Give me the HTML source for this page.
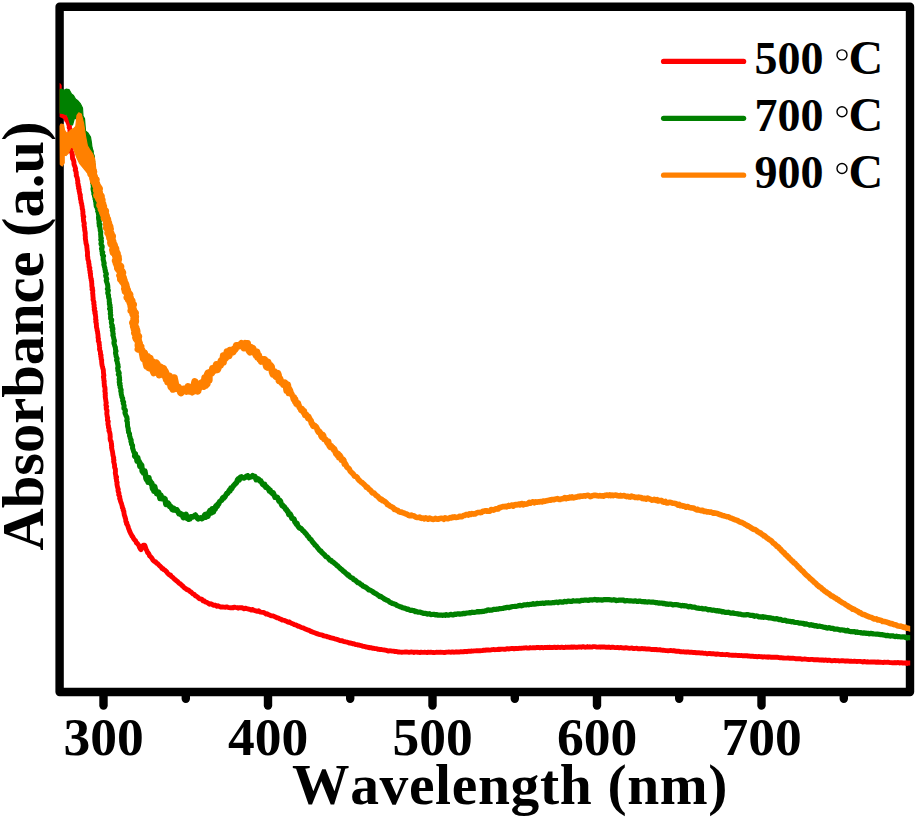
<!DOCTYPE html>
<html><head><meta charset="utf-8"><style>
html,body{margin:0;padding:0;background:#fff;}
svg{display:block;}
</style></head><body>
<svg width="917" height="818" viewBox="0 0 917 818">
<rect width="917" height="818" fill="#fff"/>
<g stroke="#000" stroke-width="8.4" stroke-linecap="round" fill="none">
<rect x="59.6" y="6.7" width="850.4" height="685.3" stroke-linejoin="round"/>
<line x1="103.5" y1="696" x2="103.5" y2="705.5"/>
<line x1="185.8" y1="696" x2="185.8" y2="698.7"/>
<line x1="268.0" y1="696" x2="268.0" y2="705.5"/>
<line x1="350.2" y1="696" x2="350.2" y2="698.7"/>
<line x1="432.5" y1="696" x2="432.5" y2="705.5"/>
<line x1="514.8" y1="696" x2="514.8" y2="698.7"/>
<line x1="597.0" y1="696" x2="597.0" y2="705.5"/>
<line x1="679.2" y1="696" x2="679.2" y2="698.7"/>
<line x1="761.5" y1="696" x2="761.5" y2="705.5"/>
<line x1="843.8" y1="696" x2="843.8" y2="698.7"/>
</g>
<defs><clipPath id="pa"><rect x="59.6" y="6.7" width="850.6" height="685.3"/></clipPath></defs>
<g fill="none" stroke-linejoin="round" stroke-linecap="round" clip-path="url(#pa)">
<path d="M59.0 85.5 L59.3 86.2 L58.8 87.1 L59.4 88.2 L58.9 89.3 L59.0 90.6 L59.4 92.0 M59.4 92.0 L59.1 93.4 L59.2 94.8 L58.9 96.2 L59.4 97.5 L59.3 98.8 L59.2 100.0 M59.2 100.0 L59.5 101.4 L59.2 102.8 L59.3 104.2 L59.0 105.6 L59.2 107.0 L59.0 108.3 M59.0 108.3 L59.1 109.5 L59.5 110.6 L59.3 111.6 L59.6 112.5 L60.5 114.8 L61.8 115.4 M61.8 115.4 L63.0 115.8 L64.0 116.5 L65.1 117.0 L66.0 118.1 L66.5 120.0 L67.1 120.5 M67.1 120.5 L67.6 121.2 L68.2 122.8 L68.7 124.0 L69.0 125.1 L69.5 126.3 L69.2 127.4 M69.2 127.4 L69.8 128.7 L70.0 130.0 L69.9 131.2 L70.5 132.4 L70.8 133.6 L70.8 135.0 M70.8 135.0 L70.7 136.4 L71.2 138.0 L71.0 139.0 L71.1 140.2 L71.2 141.3 L70.8 142.6 M70.8 142.6 L71.2 143.8 L71.1 145.1 L71.2 146.3 L70.8 147.6 L71.3 148.8 L71.0 150.0 M71.0 150.0 L71.1 151.3 L71.8 152.6 L72.1 153.8 L72.4 155.1 L72.4 156.3 L72.5 157.5 M72.5 157.5 L72.6 158.7 L73.4 159.9 L73.7 161.0 L74.0 162.4 L73.9 163.7 L74.2 164.9 M74.2 164.9 L74.8 166.2 L75.2 167.4 L75.6 168.7 L75.2 170.0 L75.7 171.1 L76.2 172.2 M76.2 172.2 L76.1 173.2 L76.4 174.3 L76.2 175.5 L76.8 176.8 L77.3 178.3 L77.5 180.0 M77.5 180.0 L77.8 181.0 L77.8 182.0 L77.7 183.2 L78.3 184.3 L78.1 185.6 L78.8 186.9 M78.8 186.9 L78.5 188.2 L79.3 189.5 L79.1 190.9 L79.5 192.2 L79.7 193.6 L80.3 194.9 M80.3 194.9 L80.1 196.2 L80.5 197.5 L80.4 198.8 L80.8 200.0 L81.1 201.3 L81.1 202.5 M81.1 202.5 L81.7 203.8 L81.7 205.0 L82.1 206.2 L82.2 207.4 L82.2 208.6 L82.7 209.8 M82.7 209.8 L82.7 211.0 L83.0 212.2 L82.8 213.4 L83.1 214.6 L83.0 215.7 L83.7 216.9 M83.7 216.9 L83.3 218.0 L83.5 219.3 L83.5 220.5 L83.7 221.7 L84.2 222.8 L84.3 223.9 M84.3 223.9 L84.0 225.1 L84.2 226.2 L84.4 227.4 L84.7 228.6 L84.6 229.8 L84.9 231.1 M84.9 231.1 L85.2 232.5 L85.3 234.0 L85.1 235.0 L85.3 236.1 L85.4 237.2 L85.3 238.4 M85.3 238.4 L85.5 239.5 L85.7 240.7 L85.9 242.0 L86.0 243.2 L86.4 244.5 L86.8 245.8 M86.8 245.8 L86.8 247.0 L87.0 248.3 L87.1 249.6 L87.2 250.8 L87.5 252.1 L87.5 253.3 M87.5 253.3 L87.5 254.5 L87.4 255.7 L87.8 256.9 L87.8 258.0 L87.9 259.3 L88.4 260.6 M88.4 260.6 L88.8 261.9 L88.6 263.1 L89.1 264.3 L89.1 265.5 L89.1 266.7 L89.8 267.8 M89.8 267.8 L89.6 269.0 L89.7 270.2 L90.3 271.4 L90.0 272.6 L90.6 273.9 L90.4 275.2 M90.4 275.2 L90.7 276.6 L90.8 278.0 L91.4 279.1 L91.2 280.2 L91.7 281.3 L91.6 282.4 M91.6 282.4 L91.8 283.5 L91.8 284.7 L91.8 285.8 L92.0 287.0 L92.5 288.2 L92.1 289.4 M92.1 289.4 L92.8 290.6 L92.7 291.9 L92.6 293.1 L92.9 294.4 L92.9 295.7 L93.0 297.0 M93.0 297.0 L93.2 298.3 L93.0 299.6 L93.5 300.9 L94.0 302.3 L93.7 303.6 L94.2 305.0 M94.2 305.0 L94.1 306.1 L94.1 307.2 L94.7 308.3 L94.2 309.5 L94.5 310.7 L95.2 311.9 M95.2 311.9 L94.8 313.1 L95.4 314.3 L95.4 315.5 L95.7 316.7 L95.7 318.0 L95.6 319.2 M95.6 319.2 L96.1 320.5 L95.7 321.7 L96.2 323.0 L96.3 324.2 L96.5 325.5 L96.4 326.7 M96.4 326.7 L96.7 328.0 L97.1 329.2 L97.1 330.4 L97.6 331.6 L97.6 332.9 L97.9 334.1 M97.9 334.1 L98.0 335.2 L98.1 336.4 L98.0 337.6 L98.5 338.7 L98.3 340.0 L98.4 341.3 M98.4 341.3 L99.2 342.6 L99.1 343.9 L99.4 345.2 L99.5 346.5 L99.7 347.8 L99.5 349.1 M99.5 349.1 L99.8 350.3 L100.4 351.6 L100.5 352.8 L100.4 354.1 L101.1 355.3 L100.8 356.5 M100.8 356.5 L101.2 357.7 L101.1 358.9 L101.7 360.1 L101.6 361.3 L101.7 362.4 L101.8 363.6 M101.8 363.6 L102.0 364.7 L102.2 365.8 L102.6 366.9 L102.7 368.0 L103.2 369.4 L103.4 370.7 M103.4 370.7 L103.4 372.0 L103.5 373.2 L103.7 374.4 L103.9 375.6 L103.4 376.8 L103.6 377.9 M103.6 377.9 L103.9 379.0 L103.8 380.1 L104.3 381.3 L104.1 382.4 L104.2 383.6 L104.4 384.8 M104.4 384.8 L104.3 386.0 L104.9 387.3 L105.0 388.6 L105.1 390.0 L104.8 391.1 L105.1 392.2 M105.1 392.2 L105.4 393.3 L105.1 394.4 L105.4 395.6 L105.2 396.7 L105.4 397.9 L105.6 399.1 M105.6 399.1 L105.8 400.3 L105.9 401.6 L106.3 402.8 L106.0 404.0 L105.9 405.3 L106.6 406.5 M106.6 406.5 L106.2 407.8 L106.3 409.0 L107.0 410.3 L107.0 411.5 L106.8 412.8 L106.8 414.0 M106.8 414.0 L107.1 415.3 L107.2 416.5 L107.7 417.8 L107.5 419.0 L107.4 420.2 L108.2 421.4 M108.2 421.4 L108.1 422.5 L107.9 423.7 L108.1 424.9 L108.5 426.1 L108.4 427.3 L109.0 428.5 M109.0 428.5 L109.1 429.7 L108.9 430.8 L109.6 432.0 L109.8 433.2 L110.1 434.4 L110.1 435.6 M110.1 435.6 L110.3 436.8 L110.1 438.0 L110.2 439.2 L110.4 440.4 L111.2 441.6 L111.2 442.8 M111.2 442.8 L111.6 444.0 L111.4 445.2 L111.8 446.3 L111.5 447.5 L111.8 448.7 L112.0 449.9 M112.0 449.9 L112.4 451.2 L112.6 452.5 L112.8 453.8 L112.9 455.0 L113.2 456.3 L113.7 457.7 M113.7 457.7 L113.5 459.0 L114.0 460.3 L113.6 461.6 L114.0 462.9 L114.4 464.2 L114.6 465.4 M114.6 465.4 L114.5 466.7 L114.8 468.0 L115.4 469.2 L115.4 470.4 L115.5 471.6 L115.3 472.7 M115.3 472.7 L115.4 473.9 L115.7 474.9 L115.8 476.0 L116.6 477.0 L116.0 478.0 L116.5 479.6 M116.5 479.6 L116.5 481.1 L117.2 482.5 L116.9 483.8 L117.1 485.0 L117.3 486.2 L117.6 487.3 M117.6 487.3 L117.9 488.4 L118.3 489.4 L118.0 490.5 L118.2 491.5 L118.8 492.6 L119.0 493.6 M119.0 493.6 L118.7 494.7 L119.5 496.0 L119.8 497.2 L119.6 498.4 L120.3 499.5 L120.3 500.6 M120.3 500.6 L120.7 501.8 L121.2 502.9 L121.6 504.0 L121.9 505.2 L122.3 506.4 L122.4 507.7 M122.4 507.7 L123.2 509.0 L123.1 510.1 L123.9 511.3 L123.9 512.5 L124.1 513.7 L124.3 515.0 M124.3 515.0 L124.8 516.2 L125.1 517.5 L125.6 518.8 L125.8 520.1 L125.8 521.3 L126.7 522.6 M126.7 522.6 L126.5 523.7 L127.4 524.9 L127.8 526.0 L128.2 527.0 L128.6 528.5 L129.0 529.4 M129.0 529.4 L129.6 531.1 L130.2 532.4 L130.8 533.8 L131.4 534.6 L132.0 536.1 L132.6 536.5 M132.6 536.5 L133.2 537.6 L133.7 538.8 L134.7 540.1 L135.6 540.8 L136.4 542.8 L137.2 543.3 M137.2 543.3 L138.0 544.4 L138.8 545.3 L139.6 547.6 L140.3 548.8 L141.0 549.6 L141.8 548.0 M141.8 548.0 L142.5 546.9 L143.2 545.4 L144.0 545.1 L144.6 545.2 L145.1 546.2 L145.7 548.1 M145.7 548.1 L146.3 549.8 L147.0 550.9 L147.6 552.7 L148.2 553.0 L148.9 554.0 L149.6 555.8 M149.6 555.8 L150.4 556.5 L151.3 557.4 L152.0 558.3 L152.8 559.9 L153.7 560.8 L154.5 561.3 M154.5 561.3 L155.5 561.7 L156.5 563.2 L157.5 563.6 L158.7 564.8 L159.5 565.7 L160.3 566.3 M160.3 566.3 L161.1 567.0 L162.0 568.5 L162.9 568.5 L163.8 569.7 L164.8 570.0 L165.7 570.9 M165.7 570.9 L166.7 571.8 L167.6 573.4 L168.6 574.0 L169.5 575.0 L170.4 574.9 L171.4 576.5 M171.4 576.5 L172.4 577.1 L173.4 578.0 L174.4 579.2 L175.4 579.7 L176.4 580.8 L177.4 581.4 M177.4 581.4 L178.4 582.4 L179.4 583.4 L180.3 583.8 L181.2 584.7 L182.0 585.5 L183.2 586.5 M183.2 586.5 L184.2 587.7 L185.2 588.3 L186.1 588.9 L187.0 589.8 L188.0 589.8 L188.9 590.4 M188.9 590.4 L190.0 591.5 L191.0 592.0 L192.1 593.2 L193.1 594.0 L194.2 594.3 L195.3 595.7 M195.3 595.7 L196.5 596.3 L197.6 597.0 L198.7 598.2 L199.8 598.9 L200.9 598.9 L202.0 599.5 M202.0 599.5 L203.1 600.9 L204.2 600.8 L205.2 602.0 L206.3 602.1 L207.4 602.7 L208.5 603.4 M208.5 603.4 L209.6 604.2 L210.8 603.8 L212.0 604.3 L213.3 605.2 L214.5 605.2 L215.7 605.4 M215.7 605.4 L216.9 606.3 L218.2 605.8 L219.4 606.5 L220.6 607.0 L221.9 606.9 L223.1 607.0 M223.1 607.0 L224.4 607.1 L225.6 607.3 L226.8 606.9 L228.1 607.3 L229.3 607.6 L230.5 607.8 M230.5 607.8 L231.8 607.8 L233.0 607.9 L234.2 607.1 L235.4 607.4 L236.7 607.6 L237.9 608.1 M237.9 608.1 L239.1 607.7 L240.3 607.7 L241.5 607.6 L242.8 608.1 L244.0 608.7 L245.2 608.2 M245.2 608.2 L246.4 608.5 L247.7 608.9 L248.9 609.3 L250.1 609.4 L251.3 610.1 L252.6 609.6 M252.6 609.6 L253.8 610.2 L255.0 610.6 L256.2 611.0 L257.5 611.3 L258.7 610.8 L259.9 611.9 M259.9 611.9 L261.1 612.2 L262.4 612.4 L263.6 612.4 L264.8 613.1 L266.1 614.1 L267.3 613.9 M267.3 613.9 L268.5 614.6 L269.7 615.0 L270.9 615.9 L272.2 615.9 L273.4 616.0 L274.6 616.7 M274.6 616.7 L275.8 617.1 L277.1 617.9 L278.3 617.9 L279.5 618.8 L280.8 619.1 L282.0 619.9 M282.0 619.9 L283.3 620.2 L284.5 620.4 L285.7 621.0 L287.0 621.5 L288.2 622.4 L289.4 622.1 M289.4 622.1 L290.7 622.9 L291.9 623.5 L293.1 623.9 L294.3 624.6 L295.6 625.0 L296.8 625.4 M296.8 625.4 L298.0 626.2 L299.2 626.3 L300.4 627.0 L301.7 627.6 L302.9 627.8 L304.1 628.4 M304.1 628.4 L305.4 629.1 L306.6 629.6 L307.8 630.1 L309.0 630.2 L310.2 631.1 L311.5 631.6 M311.5 631.6 L312.7 632.1 L313.9 632.5 L315.2 633.0 L316.4 633.5 L317.6 633.8 L318.8 634.4 M318.8 634.4 L320.1 634.6 L321.3 634.8 L322.5 635.1 L323.7 635.9 L324.9 636.1 L326.2 636.2 M326.2 636.2 L327.4 636.9 L328.6 637.0 L329.8 637.5 L331.1 637.8 L332.3 638.1 L333.5 638.4 M333.5 638.4 L334.7 638.8 L336.0 639.1 L337.2 639.5 L338.4 639.8 L339.6 640.5 L340.9 640.7 M340.9 640.7 L342.1 640.8 L343.3 641.3 L344.5 641.6 L345.8 641.9 L347.0 642.1 L348.2 642.5 M348.2 642.5 L349.3 643.0 L350.4 643.0 L351.6 643.3 L352.7 643.8 L354.0 643.8 L355.4 644.4 M355.4 644.4 L356.9 644.6 L357.9 645.0 L359.0 645.0 L360.0 645.4 L361.1 645.6 L362.3 646.1 M362.3 646.1 L363.5 646.4 L364.7 646.5 L366.0 647.0 L367.3 647.2 L368.6 647.5 L370.0 647.8 M370.0 647.8 L371.4 647.8 L372.9 648.4 L373.9 648.3 L375.0 648.6 L376.1 648.6 L377.3 649.1 M377.3 649.1 L378.4 649.1 L379.6 649.5 L380.8 649.4 L382.1 649.7 L383.3 649.9 L384.5 650.0 M384.5 650.0 L385.8 650.1 L387.1 650.7 L388.3 651.0 L389.6 650.8 L390.9 650.9 L392.1 651.1 M392.1 651.1 L393.4 651.1 L394.6 651.6 L395.8 651.5 L397.0 651.7 L398.2 652.0 L399.4 652.0 M399.4 652.0 L400.6 652.1 L401.8 652.2 L403.0 652.1 L404.2 652.1 L405.4 651.9 L406.6 652.0 M406.6 652.0 L407.9 652.2 L409.1 652.4 L410.3 652.2 L411.5 652.0 L412.7 652.1 L413.9 652.4 M413.9 652.4 L415.1 652.1 L416.3 652.1 L417.5 652.2 L418.7 652.4 L419.9 652.5 L421.1 652.2 M421.1 652.2 L422.3 652.4 L423.5 652.4 L424.7 652.3 L425.9 652.4 L427.1 652.5 L428.3 652.2 M428.3 652.2 L429.5 652.4 L430.8 652.2 L432.0 652.4 L433.2 652.5 L434.4 652.6 L435.6 652.4 M435.6 652.4 L436.8 652.3 L438.0 652.4 L439.2 652.3 L440.4 652.1 L441.6 652.3 L442.8 652.4 M442.8 652.4 L444.0 652.5 L445.2 652.5 L446.4 652.1 L447.6 652.1 L448.8 652.0 L450.0 652.1 M450.0 652.1 L451.2 652.3 L452.4 651.9 L453.7 652.2 L454.9 652.1 L456.1 651.8 L457.3 652.0 M457.3 652.0 L458.5 652.0 L459.7 652.0 L460.9 651.6 L462.1 651.9 L463.3 651.8 L464.5 651.5 M464.5 651.5 L465.7 651.4 L466.9 651.7 L468.1 651.3 L469.3 651.2 L470.5 651.3 L471.7 651.0 M471.7 651.0 L472.9 651.1 L474.1 650.9 L475.3 650.9 L476.6 650.8 L477.8 650.8 L479.0 650.6 M479.0 650.6 L480.2 650.7 L481.4 650.6 L482.6 650.5 L483.8 650.2 L485.0 650.3 L486.2 650.0 M486.2 650.0 L487.4 649.9 L488.6 650.0 L489.8 650.1 L491.0 649.9 L492.2 649.6 L493.4 649.5 M493.4 649.5 L494.6 649.7 L495.8 649.6 L497.0 649.6 L498.2 649.2 L499.5 649.5 L500.7 649.2 M500.7 649.2 L501.9 649.1 L503.1 649.1 L504.3 649.3 L505.5 649.3 L506.7 648.8 L507.9 648.8 M507.9 648.8 L509.1 649.0 L510.3 648.6 L511.5 648.5 L512.7 648.4 L514.0 648.8 L515.2 648.5 M515.2 648.5 L516.5 648.4 L517.7 648.6 L519.0 648.3 L520.3 648.4 L521.5 648.2 L522.8 648.1 M522.8 648.1 L524.0 648.0 L525.2 647.9 L526.4 647.8 L527.6 648.1 L528.8 648.1 L529.9 647.8 M529.9 647.8 L531.0 647.9 L532.1 647.9 L533.2 647.6 L534.6 647.8 L535.9 647.8 L537.1 647.4 M537.1 647.4 L538.3 647.4 L539.4 647.7 L540.5 647.7 L541.6 647.4 L542.7 647.7 L543.8 647.7 M543.8 647.7 L544.9 647.5 L546.1 647.5 L547.3 647.3 L548.6 647.5 L550.0 647.3 L551.1 647.5 M551.1 647.5 L552.2 647.5 L553.3 647.5 L554.4 647.2 L555.6 647.5 L556.8 647.5 L558.0 647.2 M558.0 647.2 L559.2 647.4 L560.4 647.5 L561.7 647.1 L562.9 647.5 L564.2 647.5 L565.5 647.3 M565.5 647.3 L566.7 647.4 L568.0 647.1 L569.2 647.2 L570.5 647.3 L571.7 646.9 L572.9 647.3 M572.9 647.3 L574.1 647.0 L575.3 647.2 L576.5 647.1 L577.7 647.2 L578.9 647.0 L580.1 647.0 M580.1 647.0 L581.3 647.2 L582.5 646.7 L583.7 646.8 L585.0 647.2 L586.2 647.1 L587.4 646.7 M587.4 646.7 L588.6 647.1 L589.8 646.8 L591.0 647.1 L592.2 647.1 L593.4 646.6 L594.6 646.6 M594.6 646.6 L595.8 646.8 L597.0 647.1 L598.2 647.1 L599.4 646.9 L600.6 647.2 L601.8 646.9 M601.8 646.9 L603.0 647.0 L604.2 646.9 L605.4 647.3 L606.6 647.3 L607.9 647.2 L609.1 647.1 M609.1 647.1 L610.3 647.5 L611.5 647.3 L612.7 647.2 L613.9 647.4 L615.1 647.6 L616.3 647.6 M616.3 647.6 L617.5 647.4 L618.7 647.8 L619.9 647.7 L621.1 647.5 L622.3 647.9 L623.5 648.0 M623.5 648.0 L624.7 648.0 L625.9 647.7 L627.1 647.9 L628.3 648.1 L629.5 648.3 L630.8 648.1 M630.8 648.1 L632.0 648.0 L633.2 648.5 L634.4 648.5 L635.6 648.4 L636.8 648.2 L638.0 648.7 M638.0 648.7 L639.2 648.7 L640.4 648.9 L641.6 648.5 L642.8 648.7 L644.0 648.7 L645.2 648.7 M645.2 648.7 L646.4 649.1 L647.6 649.0 L648.8 648.9 L650.0 649.1 L651.2 649.5 L652.4 649.5 M652.4 649.5 L653.7 649.4 L654.9 649.7 L656.1 649.5 L657.3 649.8 L658.5 649.9 L659.7 649.7 M659.7 649.7 L660.9 650.0 L662.1 650.2 L663.3 650.3 L664.5 650.4 L665.7 650.6 L666.9 650.6 M666.9 650.6 L668.1 650.8 L669.3 650.6 L670.5 650.5 L671.7 650.7 L672.9 650.9 L674.1 650.8 M674.1 650.8 L675.3 651.0 L676.6 651.3 L677.8 651.2 L679.0 651.3 L680.2 651.7 L681.4 651.8 M681.4 651.8 L682.6 651.9 L683.8 651.8 L685.0 652.0 L686.2 652.2 L687.4 651.9 L688.6 652.0 M688.6 652.0 L689.8 652.4 L691.0 652.2 L692.2 652.3 L693.4 652.5 L694.6 652.4 L695.8 652.7 M695.8 652.7 L697.0 652.6 L698.2 652.8 L699.5 652.8 L700.7 653.0 L701.9 652.9 L703.1 653.2 M703.1 653.2 L704.3 653.4 L705.5 653.3 L706.7 653.7 L707.9 653.7 L709.1 653.5 L710.3 653.5 M710.3 653.5 L711.5 653.9 L712.7 653.7 L713.9 653.8 L715.1 654.0 L716.2 654.3 L717.4 654.0 M717.4 654.0 L718.6 654.2 L719.7 654.4 L720.9 654.5 L722.1 654.3 L723.3 654.6 L724.5 654.6 M724.5 654.6 L725.7 654.7 L726.9 654.5 L728.1 654.6 L729.4 655.1 L730.6 655.1 L731.9 655.2 M731.9 655.2 L733.2 655.3 L734.3 655.4 L735.5 655.2 L736.7 655.4 L737.9 655.5 L739.2 655.5 M739.2 655.5 L740.4 655.6 L741.7 655.5 L743.0 655.9 L744.3 655.7 L745.6 655.7 L746.9 655.7 M746.9 655.7 L748.2 656.1 L749.4 656.0 L750.7 656.4 L751.9 656.1 L753.2 656.2 L754.4 656.6 M754.4 656.6 L755.6 656.5 L756.7 656.7 L757.9 656.7 L758.9 656.5 L760.0 656.6 L761.4 656.7 M761.4 656.7 L762.7 657.0 L763.9 656.8 L765.0 656.9 L766.1 657.0 L767.1 656.9 L768.1 657.2 M768.1 657.2 L769.1 656.9 L770.1 657.0 L771.2 657.3 L772.4 657.3 L773.7 657.3 L775.2 657.3 M775.2 657.3 L776.8 657.2 L778.6 657.5 L779.5 657.8 L780.5 657.7 L781.4 657.7 L782.5 658.0 M782.5 658.0 L783.5 658.0 L784.6 658.1 L785.7 658.1 L786.8 658.1 L788.0 658.0 L789.2 658.2 M789.2 658.2 L790.4 658.1 L791.6 658.4 L792.8 658.2 L794.1 658.4 L795.4 658.7 L796.7 658.6 M796.7 658.6 L797.9 658.7 L799.2 658.6 L800.5 658.7 L801.8 659.2 L803.2 659.1 L804.5 659.0 M804.5 659.0 L805.8 659.2 L807.1 659.4 L808.4 659.5 L809.7 659.6 L811.0 659.4 L812.2 659.4 M812.2 659.4 L813.5 659.7 L814.8 659.7 L816.0 659.8 L817.2 659.7 L818.4 659.8 L819.6 660.0 M819.6 660.0 L820.8 659.9 L821.9 660.2 L823.1 659.9 L824.2 660.4 L825.4 660.0 L826.5 660.2 M826.5 660.2 L827.7 660.5 L828.8 660.2 L829.9 660.3 L831.1 660.7 L832.2 660.7 L833.4 660.6 M833.4 660.6 L834.5 660.4 L835.6 660.7 L836.8 660.6 L838.0 660.6 L839.1 661.0 L840.3 660.9 M840.3 660.9 L841.5 660.8 L842.7 660.7 L844.0 660.9 L845.2 661.2 L846.4 661.0 L847.7 661.0 M847.7 661.0 L849.0 661.2 L850.3 661.1 L851.7 661.3 L853.0 661.4 L854.4 661.2 L855.8 661.4 M855.8 661.4 L856.9 661.5 L858.0 661.4 L859.1 661.4 L860.3 661.4 L861.5 661.6 L862.8 661.9 M862.8 661.9 L864.0 661.4 L865.3 661.9 L866.6 662.0 L868.0 661.8 L869.3 662.1 L870.7 662.0 M870.7 662.0 L872.1 662.0 L873.4 662.0 L874.8 662.0 L876.2 662.2 L877.6 662.0 L879.0 662.3 M879.0 662.3 L880.4 662.2 L881.8 662.4 L883.2 662.5 L884.6 662.2 L886.0 662.4 L887.4 662.3 M887.4 662.3 L888.7 662.3 L890.1 662.6 L891.4 662.6 L892.7 662.9 L893.9 662.7 L895.2 662.6 M895.2 662.6 L896.4 662.9 L897.6 662.5 L898.7 662.7 L899.9 663.0 L900.9 662.7 L902.0 662.8 M902.0 662.8 L903.0 663.1 L903.9 662.9 L904.9 662.9 L905.7 663.2 L906.5 662.8 L907.3 663.3 M907.3 663.3 L908.0 663.0 L912.3 663.1 L914.0 663.3 L914.2 663.3 L913.9 663.5 L914.0 663.4" stroke="#ff0000" stroke-width="4.9"/>
<path d="M59.6 89.7 L61.4 89.0 L63.5 90.5 L66.0 89.2 L69.0 89.5 L71.5 94.0 L73.5 95.5 L75.5 99.0 L77.5 100.5 L80.5 104.0 L82.5 108.0 L83.0 116.0 L84.5 118.5 L85.5 131.0 L88.0 133.0 L90.5 137.0 L91.5 143.0 L92.5 153.0 L94.0 155.0 L94.0 165.0 L86.0 160.0 L82.0 135.0 L78.0 120.0 L74.5 118.0 L72.5 125.0 L70.5 124.5 L68.5 118.0 L67.0 115.0 L63.0 113.5 L59.6 113.0 Z" fill="#008000" stroke="#008000" stroke-width="1.2"/>
<path d="M88.7 146.0 L89.3 146.4 L89.7 148.2 L90.2 148.1 L90.8 150.1 L91.4 151.6 L91.3 153.2 M91.3 153.2 L91.5 155.0 L91.9 156.0 L92.4 157.0 L92.4 158.1 L92.1 159.2 L92.5 160.4 M92.5 160.4 L92.8 161.7 L92.6 162.9 L92.9 164.2 L93.3 165.5 L93.0 166.8 L92.8 168.1 M92.8 168.1 L92.6 169.4 L92.8 170.7 L93.0 172.0 L93.5 173.2 L93.3 174.4 L92.8 175.6 M92.8 175.6 L93.5 176.8 L93.0 178.0 L93.2 179.3 L92.5 180.5 L92.5 181.7 L92.6 183.0 M92.6 183.0 L93.3 184.2 L93.1 185.4 L93.4 186.6 L93.2 187.7 L93.0 188.9 L93.2 190.0 M93.2 190.0 L93.5 191.4 L94.0 192.7 L93.8 194.0 L94.5 195.2 L94.5 196.5 L95.1 197.7 M95.1 197.7 L95.0 198.9 L95.5 200.2 L95.5 201.4 L96.0 202.6 L95.9 203.8 L96.1 205.0 M96.1 205.0 L96.2 206.2 L97.2 207.3 L97.1 208.3 L97.8 209.3 L98.0 210.3 L97.7 211.3 M97.7 211.3 L98.5 212.4 L98.3 213.5 L98.7 214.8 L98.6 216.1 L98.5 217.7 L98.7 219.4 M98.7 219.4 L98.9 220.3 L99.4 221.3 L99.0 222.3 L99.0 223.4 L100.0 224.5 L99.3 225.7 M99.3 225.7 L99.8 226.9 L100.0 228.1 L100.2 229.3 L100.2 230.6 L100.8 231.8 L100.7 233.1 M100.7 233.1 L100.6 234.4 L100.8 235.7 L100.8 237.1 L101.4 238.4 L100.7 239.7 L101.4 241.0 M101.4 241.0 L101.4 242.3 L100.9 243.6 L101.3 244.9 L102.2 246.2 L102.2 247.5 L101.5 248.7 M101.5 248.7 L101.9 249.9 L101.8 251.1 L102.8 252.3 L102.2 253.6 L102.4 254.8 L103.5 256.0 M103.5 256.0 L103.1 257.2 L103.2 258.4 L103.1 259.6 L103.6 260.8 L103.8 262.0 L104.2 263.2 M104.2 263.2 L103.8 264.4 L104.2 265.6 L104.4 266.8 L104.9 268.0 L104.9 269.3 L105.4 270.5 M105.4 270.5 L105.3 271.7 L106.1 273.0 L106.4 274.2 L105.6 275.5 L105.9 276.7 L106.5 278.0 M106.5 278.0 L106.8 279.2 L106.2 280.4 L106.5 281.6 L107.0 282.8 L107.3 284.0 L107.7 285.3 M107.7 285.3 L107.8 286.5 L107.9 287.8 L107.3 289.0 L108.4 290.3 L108.1 291.5 L107.7 292.8 M107.7 292.8 L108.0 294.0 L108.6 295.3 L108.5 296.6 L108.7 297.8 L109.2 299.1 L109.3 300.3 M109.3 300.3 L109.2 301.6 L109.6 302.8 L109.3 304.0 L110.1 305.2 L109.8 306.4 L110.3 307.6 M110.3 307.6 L109.5 308.8 L110.5 310.0 L110.3 311.3 L110.6 312.5 L110.2 313.7 L110.8 315.0 M110.8 315.0 L110.6 316.2 L110.6 317.4 L110.6 318.6 L111.7 319.8 L111.6 321.0 L111.3 322.2 M111.3 322.2 L111.5 323.3 L111.8 324.5 L112.4 325.7 L111.7 326.9 L112.8 328.0 L112.9 329.2 M112.9 329.2 L112.3 330.4 L112.9 331.6 L112.8 332.7 L113.3 333.9 L112.8 335.1 L113.3 336.3 M113.3 336.3 L113.6 337.5 L113.8 338.7 L114.1 339.9 L114.5 341.1 L113.9 342.4 L114.0 343.6 M114.0 343.6 L114.5 344.9 L114.8 346.2 L115.4 347.4 L115.4 348.7 L115.6 350.0 L116.0 351.2 M116.0 351.2 L115.5 352.5 L115.6 353.8 L116.0 355.0 L116.1 356.3 L116.6 357.5 L117.1 358.8 M117.1 358.8 L116.5 360.0 L117.0 361.2 L117.4 362.4 L117.4 363.5 L118.0 364.7 L117.9 365.8 M117.9 365.8 L118.3 366.9 L117.6 368.0 L117.9 369.4 L117.9 370.7 L118.9 372.0 L119.2 373.2 M119.2 373.2 L118.3 374.4 L119.2 375.6 L119.3 376.7 L119.6 377.9 L119.1 379.0 L119.7 380.1 M119.7 380.1 L119.3 381.3 L119.2 382.4 L120.1 383.6 L119.5 384.8 L120.4 386.0 L120.1 387.3 M120.1 387.3 L120.6 388.6 L121.2 390.0 L120.7 391.1 L121.2 392.2 L121.2 393.4 L121.3 394.5 M121.3 394.5 L121.8 395.8 L121.8 397.0 L122.7 398.2 L122.7 399.5 L122.6 400.8 L123.6 402.1 M123.6 402.1 L123.2 403.4 L123.8 404.6 L124.2 405.9 L123.9 407.2 L123.9 408.5 L125.2 409.8 M125.2 409.8 L125.5 411.1 L124.9 412.3 L125.1 413.5 L125.7 414.8 L126.1 415.9 L126.8 417.1 M126.8 417.1 L127.0 418.2 L127.2 419.3 L126.7 420.7 L127.4 422.1 L127.4 423.5 L127.5 424.8 M127.5 424.8 L127.5 426.1 L127.9 427.4 L128.3 428.7 L128.2 429.9 L128.5 431.1 L128.6 432.4 M128.6 432.4 L129.5 433.5 L129.6 434.7 L129.5 435.8 L130.1 437.0 L130.2 438.1 L130.7 439.2 M130.7 439.2 L131.2 440.2 L130.8 441.3 L131.5 442.7 L131.4 444.1 L132.6 445.5 L132.6 446.8 M132.6 446.8 L132.5 448.1 L133.0 449.3 L133.3 450.5 L133.7 451.7 L134.2 452.8 L135.2 453.9" stroke="#008000" stroke-width="5.0"/>
<path d="M135.2 453.9 L135.0 455.0 L134.7 456.0 L135.7 457.0 L136.6 456.8 L137.1 461.2 L137.7 457.8 M137.7 457.8 L138.2 460.4 L138.8 461.7 L139.3 461.7 L139.9 466.5 L140.4 463.8 L141.0 465.6 M141.0 465.6 L141.6 465.2 L142.2 471.2 L142.9 469.8 L143.5 473.0 L144.1 471.2 L144.8 471.0 M144.8 471.0 L145.4 474.2 L146.0 478.4 L146.7 480.0 L147.4 477.8 L148.1 482.2 L148.9 477.9 M148.9 477.9 L149.6 482.1 L150.3 481.3 L151.0 483.6 L151.7 483.1 L152.5 488.7 L153.2 485.7 M153.2 485.7 L153.9 491.1 L154.6 486.4 L155.3 489.6 L156.0 490.6 L156.7 493.5 L157.4 492.1 M157.4 492.1 L158.0 494.1 L158.6 492.2 L159.3 494.8 L160.0 498.5 L160.9 495.3 L161.8 498.6 M161.8 498.6 L162.8 497.9 L163.9 498.3 L165.0 498.9 L165.9 504.4 L166.8 504.2 L167.7 502.9 M167.7 502.9 L168.7 503.9 L169.7 506.4 L170.8 506.6 L172.0 509.2 L172.9 509.9 L173.8 508.4 M173.8 508.4 L174.8 510.1 L175.8 510.3 L176.9 509.9 L177.9 511.5 L179.0 513.7 L180.0 513.5 M180.0 513.5 L181.0 514.6 L182.0 514.4 L183.4 517.6 L184.7 517.2 L186.0 514.4 L187.3 518.3 M187.3 518.3 L188.6 519.2 L189.8 518.9 L191.0 516.7 L192.5 516.9 L193.9 516.2 L195.3 515.1 M195.3 515.1 L196.6 517.0 L198.0 518.8 L199.4 518.3 L200.7 517.8 L202.0 518.7 L203.4 517.5 M203.4 517.5 L205.0 514.6 L205.9 517.1 L206.9 514.2 L207.9 516.2 L209.0 512.5 L210.2 510.4 M210.2 510.4 L211.2 512.9 L212.3 508.8 L213.3 511.9 L214.2 508.8 L215.0 509.3 L216.0 506.2" stroke="#008000" stroke-width="5.6"/>
<path d="M216.0 506.2 L216.7 506.8 L217.3 506.3 L217.9 503.9 L218.6 504.2 L219.6 501.6 L220.2 501.3 M220.2 501.3 L220.9 500.6 L221.7 500.4 L222.5 498.1 L223.3 497.3 L224.1 497.9 L225.0 496.7 M225.0 496.7 L225.9 494.9 L226.7 493.4 L227.6 493.5 L228.5 491.8 L229.3 490.4 L230.1 490.9 M230.1 490.9 L230.9 488.0 L231.7 488.6 L232.6 487.0 L233.4 485.9 L234.2 485.0 L235.0 484.1 M235.0 484.1 L235.8 483.4 L236.6 482.6 L237.5 479.9 L238.3 478.8 L239.1 480.2 L240.3 477.4 M240.3 477.4 L241.5 476.8 L242.8 477.9 L244.0 478.0 L245.2 477.4 L246.4 476.3 L247.7 475.8 M247.7 475.8 L248.9 477.6 L250.1 477.0 L251.3 476.9 L252.6 475.6 L253.8 476.6 L255.0 476.6 M255.0 476.6 L256.2 479.8 L257.5 478.6 L258.7 479.2 L259.7 481.0 L260.7 480.7 L261.6 482.4 M261.6 482.4 L262.6 484.4 L263.6 485.1 L264.6 484.3 L265.6 487.1 L266.5 486.7 L267.5 488.0 M267.5 488.0 L268.5 488.4 L269.3 491.1 L270.1 490.0 L270.9 492.1 L271.7 492.6 L272.5 493.7 M272.5 493.7 L273.3 492.9 L274.2 495.1 L275.0 497.3 L275.8 497.0 L276.6 496.9 L277.4 497.5 M277.4 497.5 L278.2 499.2 L279.0 501.3 L279.7 500.2 L280.5 501.2 L281.2 503.9 L282.0 505.5 M282.0 505.5 L282.7 505.3 L283.5 506.8 L284.2 506.7 L285.0 507.8 L285.7 509.4 L286.5 509.6 M286.5 509.6 L287.2 511.3 L288.0 511.4 L288.8 514.6 L289.5 514.8 L290.3 514.2 L291.0 515.5 M291.0 515.5 L291.8 518.3 L292.5 518.0 L293.3 518.7 L294.0 519.0 L294.8 521.8 L295.5 522.5 M295.5 522.5 L296.3 524.2 L297.0 523.3 L297.8 525.8 L298.6 527.0 L299.4 527.9 L300.2 528.1" stroke="#008000" stroke-width="5.4"/>
<path d="M300.2 528.1 L301.1 528.7 L301.9 529.3 L302.7 530.6 L303.5 531.0 L304.3 531.9 L305.2 533.0 M305.2 533.0 L306.0 533.7 L306.8 534.8 L307.6 536.1 L308.4 536.5 L309.2 538.0 L310.1 539.1 M310.1 539.1 L310.9 539.4 L311.7 540.7 L312.5 541.9 L313.3 543.0 L314.1 543.6 L315.0 545.0 M315.0 545.0 L315.8 545.6 L316.6 546.4 L317.4 547.6 L318.3 548.7 L319.2 549.8 L320.0 550.6 M320.0 550.6 L320.9 551.1 L321.8 552.4 L322.7 553.1 L323.6 554.2 L324.5 554.6 L325.3 555.9 M325.3 555.9 L326.2 556.8 L327.1 557.0 L328.1 557.9 L329.1 559.4 L330.0 560.2 L331.0 560.4 M331.0 560.4 L332.0 561.7 L333.0 562.0 L334.0 562.9 L334.9 563.6 L335.9 564.3 L336.9 565.5 M336.9 565.5 L337.9 566.1 L338.8 567.2 L339.7 567.8 L340.7 568.9 L341.6 569.5 L342.5 570.3 M342.5 570.3 L343.5 571.3 L344.5 571.8 L345.6 573.3 L346.7 573.7 L347.6 575.1 L348.6 575.1 M348.6 575.1 L349.5 576.4 L350.5 577.2 L351.6 577.8 L352.6 578.2 L353.7 579.6 L354.8 580.0 M354.8 580.0 L355.8 580.7 L356.9 581.8 L357.9 582.7 L359.0 582.8 L360.0 583.7 L361.1 584.7 M361.1 584.7 L362.1 585.0 L363.0 586.2 L364.0 586.6 L364.9 586.8 L365.9 587.4 L366.8 588.1 M366.8 588.1 L367.9 589.0 L369.0 590.0 L370.2 590.1 L371.5 590.9 L372.9 591.8 L373.8 592.6 M373.8 592.6 L374.7 593.0 L375.6 593.6 L376.6 593.9 L377.7 595.1 L378.7 595.4 L379.8 596.4 M379.8 596.4 L380.9 596.4 L382.0 597.4 L383.2 598.0 L384.3 599.0 L385.5 599.5 L386.6 600.1 M386.6 600.1 L387.8 600.4 L389.0 601.5 L390.1 602.3 L391.3 602.8 L392.4 603.5 L393.6 603.7 M393.6 603.7 L394.7 604.1 L395.8 604.5 L396.9 605.4 L398.1 605.9 L399.2 606.3 L400.4 606.8 M400.4 606.8 L401.5 607.0 L402.7 607.8 L403.8 608.1 L405.0 608.1 L406.1 608.8 L407.2 609.2 M407.2 609.2 L408.4 609.2 L409.5 610.1 L410.7 610.4 L411.8 610.2 L413.0 610.6 L414.1 610.7 M414.1 610.7 L415.3 611.7 L416.4 611.4 L417.6 612.2 L418.7 612.2 L419.9 612.1 L421.1 612.5 M421.1 612.5 L422.3 612.8 L423.5 613.4 L424.7 613.3 L425.9 613.3 L427.1 614.1 L428.3 613.9 M428.3 613.9 L429.5 613.7 L430.8 614.6 L432.0 614.5 L433.2 614.4 L434.4 614.3 L435.6 614.9 M435.6 614.9 L436.8 614.5 L438.0 615.2 L439.2 615.1 L440.4 615.1 L441.6 615.2 L442.8 615.3 M442.8 615.3 L444.0 615.0 L445.2 615.3 L446.4 614.7 L447.6 615.1 L448.8 615.1 L450.0 614.6 M450.0 614.6 L451.2 614.4 L452.4 614.9 L453.7 614.8 L454.9 614.1 L456.1 614.4 L457.3 613.9 M457.3 613.9 L458.5 613.8 L459.7 614.2 L460.9 613.9 L462.1 613.9 L463.3 613.3 L464.5 613.6 M464.5 613.6 L465.7 613.4 L466.9 613.0 L468.1 613.0 L469.3 612.7 L470.5 612.8 L471.7 612.3 M471.7 612.3 L472.9 612.4 L474.1 612.5 L475.3 612.2 L476.6 612.0 L477.8 611.5 L479.0 611.9 M479.0 611.9 L480.2 611.5 L481.4 611.6 L482.6 611.4 L483.8 611.3 L485.0 610.8 L486.2 610.8 M486.2 610.8 L487.4 610.1 L488.6 609.9 L489.8 610.3 L491.0 610.0 L492.2 610.1 L493.4 609.4 M493.4 609.4 L494.6 609.3 L495.8 609.4 L497.0 609.1 L498.2 609.1 L499.5 608.5 L500.7 608.7 M500.7 608.7 L501.9 608.5 L503.1 608.4 L504.3 607.8 L505.5 608.0 L506.7 607.4 L507.9 607.4 M507.9 607.4 L509.1 607.6 L510.3 607.1 L511.5 606.9 L512.7 606.5 L514.0 606.5 L515.2 606.3 M515.2 606.3 L516.5 606.3 L517.7 606.0 L519.0 605.6 L520.3 605.4 L521.5 605.8 L522.8 605.4 M522.8 605.4 L524.0 604.8 L525.2 604.8 L526.4 604.9 L527.6 604.4 L528.8 604.8 L529.9 604.4 M529.9 604.4 L531.0 604.4 L532.1 604.2 L533.2 603.7 L534.6 604.2 L535.9 604.0 L537.1 603.4 M537.1 603.4 L538.3 603.6 L539.4 603.5 L540.5 603.3 L541.6 603.3 L542.7 603.1 L543.8 603.4 M543.8 603.4 L544.9 603.2 L546.1 602.8 L547.3 602.9 L548.6 602.7 L550.0 603.0 L551.1 602.9 M551.1 602.9 L552.2 602.7 L553.3 602.7 L554.4 602.7 L555.6 602.2 L556.8 602.0 L558.0 602.6 M558.0 602.6 L559.2 601.9 L560.4 601.9 L561.7 602.1 L562.9 602.2 L564.2 601.4 L565.5 601.6 M565.5 601.6 L566.7 601.8 L568.0 601.1 L569.2 601.2 L570.5 601.4 L571.7 601.4 L572.9 600.8 M572.9 600.8 L574.1 601.0 L575.3 601.0 L576.5 600.9 L577.7 600.8 L578.9 601.1 L580.1 601.0 M580.1 601.0 L581.3 600.3 L582.5 600.3 L583.7 600.3 L585.0 600.0 L586.2 600.0 L587.4 600.3 M587.4 600.3 L588.6 600.5 L589.8 599.9 L591.0 599.8 L592.2 600.1 L593.4 599.8 L594.6 599.5 M594.6 599.5 L595.8 599.6 L597.0 600.2 L598.2 599.6 L599.4 600.0 L600.6 599.8 L601.8 600.1 M601.8 600.1 L603.0 599.9 L604.2 599.6 L605.4 599.6 L606.6 599.7 L607.9 599.7 L609.1 599.7 M609.1 599.7 L610.3 599.8 L611.5 600.1 L612.7 600.0 L613.9 599.7 L615.1 600.0 L616.3 600.5 M616.3 600.5 L617.5 600.5 L618.7 600.1 L619.9 600.0 L621.1 600.1 L622.3 600.0 L623.5 600.2 M623.5 600.2 L624.7 600.8 L625.9 600.8 L627.1 600.5 L628.3 600.7 L629.5 600.9 L630.8 600.9 M630.8 600.9 L632.0 601.0 L633.2 601.1 L634.4 601.1 L635.6 600.8 L636.8 601.3 L638.0 601.4 M638.0 601.4 L639.2 601.1 L640.4 601.2 L641.6 601.6 L642.8 601.5 L644.0 601.9 L645.2 601.6 M645.2 601.6 L646.4 602.0 L647.6 602.1 L648.8 601.8 L650.0 602.0 L651.2 602.2 L652.4 602.2 M652.4 602.2 L653.7 602.2 L654.9 602.4 L656.1 602.8 L657.3 602.6 L658.5 603.1 L659.7 603.0 M659.7 603.0 L660.9 603.2 L662.1 603.1 L663.3 603.7 L664.5 603.3 L665.7 604.1 L666.9 603.9 M666.9 603.9 L668.1 604.3 L669.3 604.2 L670.5 604.1 L671.7 604.3 L672.9 604.9 L674.1 604.7 M674.1 604.7 L675.3 604.7 L676.6 604.7 L677.8 604.8 L679.0 605.2 L680.2 605.3 L681.4 605.8 M681.4 605.8 L682.6 605.4 L683.8 605.8 L685.0 605.7 L686.2 605.9 L687.4 606.3 L688.6 606.8 M688.6 606.8 L689.8 606.3 L691.0 606.5 L692.2 607.2 L693.4 607.2 L694.6 607.0 L695.8 607.7 M695.8 607.7 L697.0 608.1 L698.2 608.1 L699.5 608.5 L700.7 608.5 L701.9 608.3 L703.1 608.9 M703.1 608.9 L704.3 608.9 L705.5 608.7 L706.7 609.1 L707.9 609.8 L709.1 609.7 L710.3 609.7 M710.3 609.7 L711.5 610.1 L712.7 610.3 L713.9 610.1 L715.1 610.5 L716.2 610.9 L717.4 610.6 M717.4 610.6 L718.6 611.1 L719.7 610.9 L720.9 611.2 L722.1 611.8 L723.3 611.7 L724.5 612.2 M724.5 612.2 L725.7 612.3 L726.9 612.4 L728.1 612.2 L729.4 612.6 L730.6 613.1 L731.9 613.1 M731.9 613.1 L733.2 612.9 L734.3 613.4 L735.5 613.5 L736.7 613.7 L737.9 613.8 L739.2 614.2 M739.2 614.2 L740.4 614.2 L741.7 614.6 L743.0 614.8 L744.3 614.9 L745.6 615.0 L746.9 614.6 M746.9 614.6 L748.2 614.7 L749.4 615.0 L750.7 615.4 L751.9 615.4 L753.2 615.4 L754.4 616.2 M754.4 616.2 L755.6 616.0 L756.7 615.9 L757.9 616.3 L758.9 616.8 L760.0 616.8 L761.4 617.1 M761.4 617.1 L762.7 616.7 L763.9 617.3 L765.0 617.1 L766.1 617.3 L767.1 617.5 L768.1 617.6 M768.1 617.6 L769.1 618.0 L770.1 617.8 L771.2 618.1 L772.4 618.3 L773.7 618.6 L775.2 618.8 M775.2 618.8 L776.8 618.6 L778.6 619.6 L779.5 619.6 L780.5 619.3 L781.4 619.8 L782.5 620.3 M782.5 620.3 L783.5 620.4 L784.6 620.2 L785.7 620.3 L786.8 621.1 L788.0 621.1 L789.2 621.3 M789.2 621.3 L790.4 621.3 L791.6 621.8 L792.8 621.5 L794.1 622.3 L795.4 622.5 L796.7 622.5 M796.7 622.5 L797.9 622.6 L799.2 623.1 L800.5 623.1 L801.8 623.3 L803.2 623.4 L804.5 624.1 M804.5 624.1 L805.8 623.8 L807.1 624.3 L808.4 624.5 L809.7 625.1 L811.0 624.6 L812.2 625.2 M812.2 625.2 L813.5 625.2 L814.8 626.0 L816.0 625.5 L817.2 626.3 L818.4 626.3 L819.6 626.1 M819.6 626.1 L820.8 626.5 L821.9 626.6 L823.1 627.0 L824.2 627.4 L825.4 627.3 L826.5 627.9 M826.5 627.9 L827.7 628.1 L828.8 627.7 L829.9 627.8 L831.1 628.4 L832.2 628.4 L833.4 628.5 M833.4 628.5 L834.5 629.2 L835.6 629.1 L836.8 629.0 L838.0 629.4 L839.1 629.6 L840.3 630.0 M840.3 630.0 L841.5 629.8 L842.7 630.1 L844.0 630.0 L845.2 630.7 L846.4 631.0 L847.7 630.4 M847.7 630.4 L849.0 631.2 L850.3 631.6 L851.7 631.6 L853.0 631.8 L854.4 631.5 L855.8 632.3 M855.8 632.3 L856.9 631.9 L858.0 632.5 L859.1 632.5 L860.3 632.5 L861.5 633.0 L862.8 633.1 M862.8 633.1 L864.0 632.9 L865.3 633.0 L866.6 633.5 L868.0 633.3 L869.3 633.8 L870.7 633.4 M870.7 633.4 L872.1 633.6 L873.4 633.9 L874.8 634.0 L876.2 634.2 L877.6 634.2 L879.0 634.3 M879.0 634.3 L880.4 634.6 L881.8 634.6 L883.2 634.9 L884.6 635.1 L886.0 635.7 L887.4 635.4 M887.4 635.4 L888.7 635.7 L890.1 636.1 L891.4 635.8 L892.7 635.8 L893.9 636.2 L895.2 636.5 M895.2 636.5 L896.4 636.2 L897.6 636.7 L898.7 636.6 L899.9 636.8 L900.9 637.0 L902.0 636.9 M902.0 636.9 L903.0 636.8 L903.9 637.0 L904.9 636.9 L905.7 637.7 L906.5 637.6 L907.3 637.9 M907.3 637.9 L908.0 637.5 L912.3 638.1 L914.0 638.3 L914.2 638.0 L913.9 638.2 L914.0 638.3" stroke="#008000" stroke-width="5.2"/>
<path d="M59.6 126.0 L61.0 124.0 L63.5 124.5 L64.5 130.0 L66.5 133.0 L68.4 132.4 L70.9 130.0 L73.3 128.8 L75.8 126.3 L77.0 115.3 L78.8 112.9 L81.3 114.1 L83.7 123.9 L85.5 136.0 L87.4 145.9 L90.4 150.7 L92.9 154.4 L94.7 159.3 L95.9 170.3 L96.5 175.0 L89.2 175.0 L84.3 169.0 L79.4 163.0 L77.0 158.0 L73.3 148.3 L70.9 147.0 L68.4 153.2 L66.0 155.6 L64.2 154.4 L64.2 163.0 L62.3 166.0 L59.9 164.2 Z" fill="#ff8000" stroke="#ff8000" stroke-width="1.2"/>
<path d="M90.3 170.0 L91.0 170.8 L93.0 171.7 L92.8 172.9 L91.7 174.2 L93.2 175.6 L93.9 177.1 M93.9 177.1 L93.4 178.5 L95.5 179.8 L94.0 181.0 L95.3 182.4 L96.0 183.7 L96.1 184.9 M96.1 184.9 L96.9 186.2 L97.7 187.4 L98.6 188.7 L97.0 190.0 L98.4 191.2 L98.8 192.5 M98.8 192.5 L97.9 193.7 L97.4 195.0 L100.6 196.3 L98.9 197.5 L99.3 198.8 L101.4 200.0 M101.4 200.0 L100.8 201.3 L100.9 202.6 L102.2 203.9 L100.4 205.1 L102.8 206.4 L102.2 207.6 M102.2 207.6 L101.8 209.0 L103.8 210.1 L104.9 211.1 L103.1 212.2 L104.7 213.3 L104.0 214.4 M104.0 214.4 L105.6 215.6 L105.9 216.8 L104.8 218.1 L107.0 219.4 L106.8 220.5 L107.2 221.6 M107.2 221.6 L107.9 222.8 L107.1 224.0 L108.4 225.2 L109.1 226.4 L107.1 227.7 L109.7 229.0 M109.7 229.0 L108.7 230.2 L109.3 231.5 L108.6 232.8 L110.6 234.0 L109.7 235.2 L111.8 236.4 M111.8 236.4 L110.3 237.7 L111.5 238.9 L111.3 240.1 L112.2 241.4 L111.3 242.6 L111.6 243.8 M111.6 243.8 L113.6 245.1 L113.9 246.3 L113.7 247.5 L115.1 248.7 L113.3 249.9 L115.5 251.1 M115.5 251.1 L113.8 252.3 L116.6 253.5 L115.9 254.7 L116.2 255.8 L117.6 257.0 L117.4 258.2 M117.4 258.2 L117.8 259.4 L116.0 260.6 L117.3 261.8 L116.8 263.0 L117.4 264.2 L117.8 265.4 M117.8 265.4 L120.1 266.7 L118.2 267.9 L119.0 269.1 L120.0 270.3 L121.4 271.6 L122.0 272.8 M122.0 272.8 L121.6 274.1 L120.5 275.4 L121.9 276.7 L122.8 278.0 L121.2 279.1 L123.5 280.3 M123.5 280.3 L123.0 281.5 L124.1 282.7 L124.8 283.9 L125.3 285.1 L125.4 286.4 L125.9 287.6 M125.9 287.6 L125.3 288.8 L126.7 290.0 L126.0 291.2 L127.5 292.4 L128.1 293.6 L129.2 294.7 M129.2 294.7 L128.5 296.0 L127.8 297.3 L129.8 298.5 L129.2 299.7 L131.2 300.9 L130.6 302.1 M130.6 302.1 L130.9 303.3 L132.8 304.5 L131.6 305.7 L131.8 306.9 L132.1 308.1 L132.7 309.3 M132.7 309.3 L131.8 310.5 L133.3 311.7 L134.6 313.0 L133.6 314.2 L134.3 315.4 L134.9 316.6 M134.9 316.6 L134.7 317.9 L134.5 319.1 L134.8 320.3 L134.9 321.5 L133.4 322.8 L134.2 324.0 M134.2 324.0 L134.1 325.2 L134.1 326.5 L135.3 327.8 L134.9 329.1 L136.1 330.3 L136.3 331.6 M136.3 331.6 L135.2 332.9 L136.6 334.1 L136.7 335.3 L138.0 336.5 L136.4 337.6 L136.9 338.7" stroke="#ff8000" stroke-width="8.5"/>
<path d="M136.9 338.7 L138.3 340.2 L138.2 341.6 L139.2 343.0 L138.4 344.3 L138.2 345.5 L140.6 346.7 M140.6 346.7 L138.8 347.9 L138.3 349.0 L140.6 348.5 L141.2 350.2 L141.9 350.4 L142.7 354.1 M142.7 354.1 L143.5 358.3 L144.3 352.9 L145.0 356.0 L145.7 360.1 L146.3 363.7 L147.0 366.1 M147.0 366.1 L147.6 356.8 L148.4 362.5 L149.1 367.6 L150.0 358.6 L150.9 365.9 L151.9 361.8 M151.9 361.8 L152.9 369.8 L154.0 372.6 L155.1 368.6 L156.1 363.0 L157.1 364.3 L158.0 369.0 M158.0 369.0 L159.4 374.6 L160.6 367.1 L161.7 372.3 L163.0 369.9 L163.6 368.8 L164.3 375.0 M164.3 375.0 L165.0 371.2 L165.7 373.1 L166.4 379.0 L167.2 376.9 L167.9 381.6 L168.6 379.4 M168.6 379.4 L169.3 376.1 L170.0 380.3 L171.1 386.5 L172.1 383.6 L173.1 389.0 L174.1 378.0 M174.1 378.0 L175.1 382.5 L176.0 388.2 L177.3 388.1 L178.4 387.4 L179.6 389.4 L181.0 392.5 M181.0 392.5 L182.3 390.6 L183.7 389.2 L185.1 389.6 L186.6 391.0 L188.0 386.9 L189.4 390.9 M189.4 390.9 L190.9 390.0 L192.3 391.7 L193.7 387.6 L195.0 381.8 L196.4 387.5 L197.6 390.8 M197.6 390.8 L198.8 387.6 L200.0 387.0 L201.2 383.4 L202.5 382.5 L203.8 386.1 L205.0 378.1 M205.0 378.1 L205.6 385.2 L206.2 384.3 L206.9 384.1 L207.5 374.7 L208.1 373.3 L208.8 379.9" stroke="#ff8000" stroke-width="7.5"/>
<path d="M208.8 379.9 L209.4 373.9 L210.0 372.4 L210.8 372.1 L211.7 373.0 L212.5 368.6 L213.3 370.1 M213.3 370.1 L214.2 370.5 L215.0 370.2 L216.3 364.5 L217.6 369.6 L218.8 366.3 L220.0 365.3 M220.0 365.3 L220.6 365.2 L221.2 362.0 L223.4 362.1 L221.1 360.7 L222.8 359.6 L223.4 355.7 M223.4 355.7 L224.0 357.8 L224.9 358.7 L225.9 357.7 L227.0 351.8 L228.0 354.6 L229.0 355.7 M229.0 355.7 L230.0 350.2 L231.0 351.0 L232.1 352.4 L233.1 351.9 L234.0 349.2 L234.8 349.6 M234.8 349.6 L235.6 348.7 L236.3 345.5 L237.1 346.7 L238.0 345.5 L239.1 346.0 L240.3 344.6 M240.3 344.6 L241.5 343.4 L242.8 344.2 L244.0 348.0 L245.2 343.3 L246.4 343.7 L247.6 343.5 M247.6 343.5 L248.8 350.2 L250.0 352.0 L251.0 347.4 L252.0 348.3 L253.0 348.5 L254.0 352.1 M254.0 352.1 L255.0 352.0 L256.0 355.2 L256.9 351.8 L257.7 357.3 L258.6 355.3 L259.4 358.7 M259.4 358.7 L260.3 359.6 L261.1 361.3 L262.0 359.3 L262.9 360.9 L263.7 361.4 L264.6 359.7 M264.6 359.7 L265.5 362.7 L266.4 366.5 L267.2 367.2 L268.0 361.9 L268.9 367.3 L269.7 365.9 M269.7 365.9 L270.6 365.6 L271.4 366.6 L272.2 372.1 L273.0 374.2 L273.8 372.0 L274.4 371.8 M274.4 371.8 L275.1 373.5 L275.8 376.5 L276.7 377.0 L277.8 373.4 L278.4 375.2 L279.1 380.6 M279.1 380.6 L279.9 378.8 L280.7 380.9 L281.5 382.7 L282.4 382.7 L283.3 384.4 L284.1 384.1 M284.1 384.1 L285.0 383.0 L285.9 383.8 L286.8 390.5 L287.6 384.8 L288.3 390.5 L288.9 392.8" stroke="#ff8000" stroke-width="7.0"/>
<path d="M288.9 392.8 L289.6 389.3 L290.2 390.4 L290.9 392.8 L291.5 393.7 L292.2 395.3 L292.8 396.2 M292.8 396.2 L293.5 399.4 L294.1 397.2 L294.8 401.6 L295.4 399.1 L296.1 403.7 L296.7 402.3 M296.7 402.3 L297.4 404.8 L298.1 403.0 L298.9 405.8 L299.6 407.7 L300.4 408.5 L301.1 410.2 M301.1 410.2 L301.9 408.6 L302.6 410.5 L303.4 412.3 L304.1 410.9 L304.9 415.1 L305.6 414.3 M305.6 414.3 L306.4 414.6 L307.1 415.5 L307.9 418.2 L308.6 416.8 L309.4 418.5 L310.1 419.8 M310.1 419.8 L310.9 420.6 L311.6 423.4 L312.4 423.9 L313.1 426.1 L313.9 426.3 L314.6 425.6 M314.6 425.6 L315.4 426.7 L316.1 426.8 L316.9 428.3 L317.7 430.7 L318.5 432.2 L319.3 431.5 M319.3 431.5 L320.2 432.6 L321.0 435.5 L321.8 437.0 L322.6 434.5 L323.4 435.4 L324.2 439.1 M324.2 439.1 L325.1 439.0 L325.9 439.7 L326.7 441.5 L327.5 443.0 L328.4 441.3 L329.3 445.9 M329.3 445.9 L330.2 447.0 L331.1 445.9 L331.9 447.2 L332.8 447.4 L333.6 449.7 L334.4 449.1 M334.4 449.1 L335.2 451.3 L335.9 453.7 L336.5 452.8 L337.6 455.5 L338.3 453.8 L338.9 457.4 M338.9 457.4 L339.7 455.3 L340.9 457.3 L341.5 460.0 L342.1 459.2 L342.8 459.4 L343.5 460.2" stroke="#ff8000" stroke-width="6.0"/>
<path d="M343.5 460.2 L344.3 464.1 L345.1 463.3 L345.9 464.5 L346.8 466.9 L347.6 467.7 L348.5 468.3 M348.5 468.3 L349.3 469.1 L350.2 471.1 L351.0 472.0 L351.8 472.7 L352.7 473.6 L353.6 474.5 M353.6 474.5 L354.5 476.1 L355.4 476.4 L356.3 476.7 L357.2 477.6 L358.2 479.2 L359.1 480.3 M359.1 480.3 L360.0 481.0 L360.9 482.0 L361.8 482.3 L362.7 483.2 L363.6 483.9 L364.5 484.9 M364.5 484.9 L365.4 485.6 L366.3 487.3 L367.2 487.1 L368.1 488.0 L369.1 489.5 L370.0 489.9 M370.0 489.9 L370.9 490.6 L371.8 492.3 L372.7 493.0 L373.6 492.8 L374.6 493.6 L375.6 494.9 M375.6 494.9 L376.6 495.8 L377.6 496.3 L378.6 497.5 L379.5 498.4 L380.5 499.4 L381.5 499.4 M381.5 499.4 L382.5 500.7 L383.5 500.6 L384.5 501.4 L385.5 502.1 L386.5 503.0 L387.5 504.6 M387.5 504.6 L388.5 504.8 L389.5 505.7 L390.4 506.4 L391.4 506.7 L392.4 507.2 L393.4 508.0 M393.4 508.0 L394.4 509.5 L395.4 509.4 L396.6 510.1 L397.8 510.5 L399.0 511.7 L400.2 512.1 M400.2 512.1 L401.5 512.1 L402.7 512.7 L403.9 513.0 L405.1 513.7 L406.3 514.1 L407.5 514.5 M407.5 514.5 L408.7 515.4 L409.9 515.8 L411.1 515.0 L412.4 515.8 L413.6 515.7 L414.8 516.4 M414.8 516.4 L416.0 517.3 L417.2 517.5 L418.4 517.5 L419.6 517.1 L420.8 518.3 L422.0 518.3 M422.0 518.3 L423.3 518.0 L424.5 518.8 L425.7 517.9 L426.9 518.3 L428.1 519.2 L429.3 518.3 M429.3 518.3 L430.5 518.4 L431.7 519.0 L432.9 519.4 L434.1 519.2 L435.4 518.4 L436.6 518.8 M436.6 518.8 L437.8 519.3 L439.0 518.8 L440.2 518.5 L441.4 518.2 L442.7 518.4 L443.9 519.2 M443.9 519.2 L445.1 517.9 L446.3 518.4 L447.6 518.8 L448.8 518.3 L450.0 517.6 L451.2 517.9 M451.2 517.9 L452.4 517.0 L453.6 517.4 L454.9 516.9 L456.1 517.5 L457.3 517.3 L458.5 517.0 M458.5 517.0 L459.7 516.2 L460.9 516.6 L462.1 516.6 L463.3 515.6 L464.5 515.5 L465.7 514.8 M465.7 514.8 L467.0 514.5 L468.2 515.1 L469.4 513.9 L470.6 514.4 L471.8 513.5 L473.0 514.0 M473.0 514.0 L474.2 513.9 L475.4 513.9 L476.6 512.9 L477.9 512.6 L479.1 512.4 L480.3 512.6 M480.3 512.6 L481.5 512.4 L482.7 511.3 L483.9 511.3 L485.1 510.7 L486.3 510.7 L487.5 511.2 M487.5 511.2 L488.8 511.2 L490.0 511.1 L491.2 509.5 L492.4 509.7 L493.6 510.1 L494.8 509.3 M494.8 509.3 L495.9 508.8 L497.1 509.1 L498.2 508.9 L499.3 507.5 L500.5 507.7 L501.8 506.9 M501.8 506.9 L503.1 506.6 L504.5 506.8 L505.5 506.3 L506.6 506.9 L507.6 506.1 L508.7 505.6 M508.7 505.6 L509.8 506.1 L511.0 505.4 L512.2 505.0 L513.4 506.1 L514.6 504.8 L515.9 504.6 M515.9 504.6 L517.2 504.9 L518.6 504.0 L520.0 504.9 L521.1 503.7 L522.1 503.5 L523.3 504.7 M523.3 504.7 L524.4 503.8 L525.6 504.2 L526.8 504.0 L528.0 503.6 L529.3 502.4 L530.5 503.1 M530.5 503.1 L531.8 502.1 L533.0 501.8 L534.3 502.8 L535.6 501.8 L536.8 502.3 L538.1 501.8 M538.1 501.8 L539.3 501.9 L540.6 501.6 L541.8 501.9 L543.0 501.0 L544.2 501.4 L545.4 501.1 M545.4 501.1 L546.6 500.7 L547.9 500.4 L549.1 500.1 L550.3 500.3 L551.5 499.5 L552.7 499.6 M552.7 499.6 L553.9 499.8 L555.1 499.2 L556.3 498.9 L557.5 498.6 L558.8 499.4 L560.0 499.4 M560.0 499.4 L561.2 499.1 L562.4 498.8 L563.6 498.5 L564.8 497.6 L566.0 498.7 L567.2 497.9 M567.2 497.9 L568.4 498.1 L569.7 497.2 L570.9 497.9 L572.1 496.9 L573.3 497.9 L574.5 497.5 M574.5 497.5 L575.7 497.1 L576.9 497.1 L578.1 496.4 L579.3 496.7 L580.6 496.0 L581.8 496.2 M581.8 496.2 L583.0 496.1 L584.2 495.8 L585.4 496.1 L586.6 495.5 L587.8 495.4 L589.0 495.7 M589.0 495.7 L590.2 496.6 L591.5 496.2 L592.7 495.7 L593.9 495.3 L595.1 495.2 L596.3 495.5 M596.3 495.5 L597.5 495.8 L598.7 496.0 L599.9 495.5 L601.1 496.0 L602.4 495.9 L603.6 496.0 M603.6 496.0 L604.8 495.3 L606.0 495.4 L607.2 495.0 L608.4 495.6 L609.6 494.9 L610.8 495.5 M610.8 495.5 L612.0 495.1 L613.3 495.6 L614.5 495.2 L615.7 495.0 L616.9 495.7 L618.1 495.7 M618.1 495.7 L619.3 496.0 L620.5 495.4 L621.7 496.0 L622.9 495.8 L624.1 495.6 L625.4 496.2 M625.4 496.2 L626.6 496.6 L627.8 496.2 L629.0 496.9 L630.2 497.1 L631.4 496.1 L632.6 496.6 M632.6 496.6 L633.9 496.8 L635.1 497.4 L636.3 497.3 L637.5 497.6 L638.7 497.1 L640.0 497.5 M640.0 497.5 L641.2 497.5 L642.4 498.5 L643.6 498.6 L644.8 498.2 L646.0 499.2 L647.3 498.3 M647.3 498.3 L648.5 498.4 L649.7 499.0 L650.9 499.6 L652.1 500.2 L653.3 499.8 L654.5 499.5 M654.5 499.5 L655.8 500.3 L657.0 499.7 L658.2 501.0 L659.4 500.6 L660.6 500.5 L661.8 500.7 M661.8 500.7 L663.0 501.9 L664.2 502.3 L665.4 501.5 L666.6 502.9 L667.9 502.9 L669.1 502.4 M669.1 502.4 L670.3 502.3 L671.5 502.7 L672.7 503.3 L673.9 503.3 L675.2 503.5 L676.5 503.9 M676.5 503.9 L677.9 505.1 L679.2 504.3 L680.6 505.8 L681.9 505.5 L683.3 506.3 L684.6 506.3 M684.6 506.3 L685.9 507.2 L687.2 506.5 L688.4 506.9 L689.6 507.6 L690.8 507.9 L691.8 507.9 M691.8 507.9 L692.8 508.1 L693.7 508.0 L694.5 508.8 L696.6 509.8 L697.1 510.0 L697.7 509.5 M697.7 509.5 L700.0 510.4 L700.8 510.6 L701.6 510.3 L702.6 510.4 L703.6 511.1 L704.6 511.4 M704.6 511.4 L705.8 511.4 L707.0 511.9 L708.2 511.8 L709.4 512.1 L710.7 512.0 L712.0 512.5 M712.0 512.5 L713.4 513.2 L714.7 512.9 L716.0 513.2 L717.4 513.5 L718.7 514.1 L720.0 514.6 M720.0 514.6 L721.3 514.9 L722.5 515.5 L723.7 515.7 L724.8 516.1 L726.0 516.4 L727.1 516.7 M727.1 516.7 L728.2 516.8 L729.3 517.3 L730.4 518.0 L731.6 518.2 L732.7 518.7 L733.8 519.3 M733.8 519.3 L734.9 519.8 L736.1 520.0 L737.2 520.5 L738.3 520.9 L739.4 521.7 L740.6 522.3 M740.6 522.3 L741.7 522.4 L742.8 523.0 L743.9 523.5 L745.0 524.4 L746.2 524.8 L747.3 525.8 M747.3 525.8 L748.3 525.9 L749.4 526.7 L750.4 527.3 L751.4 528.1 L752.4 528.5 L753.5 529.3 M753.5 529.3 L754.5 529.6 L755.5 529.8 L756.6 530.7 L757.6 531.6 L758.6 532.0 L759.7 532.9 M759.7 532.9 L760.7 533.1 L761.7 534.2 L762.8 534.7 L763.8 535.8 L764.8 535.9 L765.8 536.9 M765.8 536.9 L766.9 537.9 L767.9 538.4 L768.9 539.3 L770.0 540.0 L771.0 540.6 L771.9 541.5 M771.9 541.5 L772.8 542.6 L773.6 543.3 L774.5 543.7 L775.4 544.7 L776.3 545.6 L777.1 546.4 M777.1 546.4 L778.0 546.7 L778.9 547.6 L779.8 549.0 L780.7 549.4 L781.5 550.6 L782.4 551.4 M782.4 551.4 L783.3 552.4 L784.2 552.7 L785.1 554.2 L785.9 555.0 L786.8 555.5 L787.7 556.7 M787.7 556.7 L788.6 557.1 L789.4 558.5 L790.3 559.1 L791.2 560.2 L792.1 561.1 L792.9 561.4 M792.9 561.4 L793.8 562.8 L794.7 563.1 L795.6 564.0 L796.5 565.0 L797.3 565.8 L798.2 566.9 M798.2 566.9 L799.1 567.4 L799.9 568.6 L800.8 569.5 L801.7 570.5 L802.6 571.0 L803.4 571.8 M803.4 571.8 L804.3 572.9 L805.2 573.8 L806.1 574.8 L806.9 575.5 L807.8 576.2 L808.7 577.0 M808.7 577.0 L809.6 578.1 L810.4 578.9 L811.3 579.3 L812.2 580.3 L813.1 581.0 L813.9 582.0 M813.9 582.0 L814.8 582.7 L815.7 583.3 L816.5 584.3 L817.4 585.2 L818.3 585.7 L819.3 586.8 M819.3 586.8 L820.3 587.1 L821.3 587.9 L822.2 589.1 L823.2 589.7 L824.2 590.6 L825.2 591.5 M825.2 591.5 L826.2 591.9 L827.2 592.8 L828.2 593.4 L829.2 594.0 L830.1 594.7 L831.1 595.7 M831.1 595.7 L832.1 595.9 L833.1 596.6 L834.1 597.3 L835.1 598.1 L836.1 598.3 L837.1 599.4 M837.1 599.4 L838.1 599.6 L839.0 600.5 L840.0 601.1 L841.0 601.8 L842.0 602.5 L843.1 603.1 M843.1 603.1 L844.1 603.4 L845.2 604.3 L846.3 605.2 L847.4 605.6 L848.4 606.6 L849.5 607.0 M849.5 607.0 L850.6 607.7 L851.7 608.4 L852.7 609.2 L853.8 609.1 L854.9 609.8 L855.9 610.4 M855.9 610.4 L857.0 611.0 L858.1 611.5 L859.2 612.7 L860.2 612.6 L861.3 613.4 L862.4 614.2 M862.4 614.2 L863.5 614.4 L864.5 614.7 L865.6 615.3 L866.8 615.8 L868.0 616.3 L869.2 616.8 M869.2 616.8 L870.4 617.2 L871.6 617.4 L872.9 618.4 L874.1 618.9 L875.3 619.0 L876.5 619.0 M876.5 619.0 L877.8 620.0 L879.0 619.9 L880.2 620.3 L881.4 620.5 L882.6 621.4 L883.7 621.5 M883.7 621.5 L884.9 621.6 L886.0 621.9 L887.1 622.3 L888.2 622.6 L889.3 623.1 L890.6 623.7 M890.6 623.7 L892.0 623.5 L893.3 624.4 L894.6 624.8 L895.9 624.8 L897.2 625.7 L898.5 626.0 M898.5 626.0 L899.8 626.2 L901.0 626.1 L902.1 626.7 L903.3 627.2 L904.3 627.4 L905.4 627.3 M905.4 627.3 L906.3 628.1 L907.2 628.1 L908.0 628.2 L910.1 628.9 L911.6 629.1 L912.6 629.6 M912.6 629.6 L913.4 629.5 L914.0 630.3" stroke="#ff8000" stroke-width="5.6"/>
</g>
<g font-family="'Liberation Serif', serif" font-weight="bold" fill="#000">
<text x="103.5" y="755" text-anchor="middle" font-size="53.5">300</text>
<text x="268.0" y="755" text-anchor="middle" font-size="53.5">400</text>
<text x="432.5" y="755" text-anchor="middle" font-size="53.5">500</text>
<text x="597.0" y="755" text-anchor="middle" font-size="53.5">600</text>
<text x="761.5" y="755" text-anchor="middle" font-size="53.5">700</text>
<text x="292" y="804" font-size="57.5" style="font-kerning:none;letter-spacing:0.65px">Wavelength (nm)</text>
<text transform="translate(43.4,550.6) rotate(-90)" font-size="58.5" style="font-kerning:none">Absorbance (a.u)</text>
<line x1="663.6" y1="61.4" x2="743.6" y2="61.4" stroke="#ff0000" stroke-width="5.3" stroke-linecap="round"/>
<text x="754.6" y="73.8" font-size="46">500</text>
<circle cx="842" cy="54.9" r="5.0" fill="none" stroke="#000" stroke-width="1.4"/>
<text x="848.6" y="73.8" font-size="48">C</text>
<line x1="663.6" y1="118.3" x2="743.6" y2="118.3" stroke="#008000" stroke-width="5.3" stroke-linecap="round"/>
<text x="754.6" y="130.7" font-size="46">700</text>
<circle cx="842" cy="111.7" r="5.0" fill="none" stroke="#000" stroke-width="1.4"/>
<text x="848.6" y="130.7" font-size="48">C</text>
<line x1="663.6" y1="175.2" x2="743.6" y2="175.2" stroke="#ff8000" stroke-width="5.3" stroke-linecap="round"/>
<text x="754.6" y="187.6" font-size="46">900</text>
<circle cx="842" cy="168.5" r="5.0" fill="none" stroke="#000" stroke-width="1.4"/>
<text x="848.6" y="187.6" font-size="48">C</text>
</g>
</svg>
</body></html>
